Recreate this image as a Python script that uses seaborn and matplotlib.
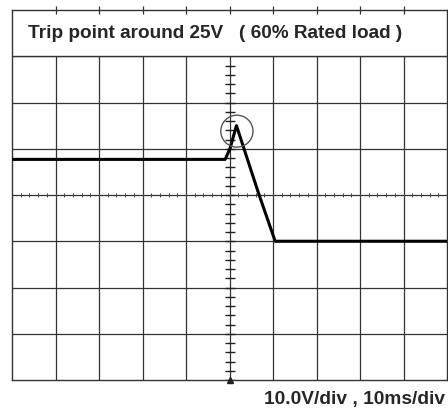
import numpy as np
import matplotlib.pyplot as plt
import seaborn as sns
from matplotlib.patches import Ellipse, Rectangle

# scope trace (10 V/div, 10 ms/div)
time_ms = [0, 49.0, 50.1, 51.6, 56.6, 60.5, 100]
volts = [17.7, 17.7, 20.0, 25.0, 10.6, 0.0, 0.0]

title_text = "Trip point around 25V   ( 60% Rated load )"
scale_text = "10.0V/div , 10ms/div"

sns.set_style("white")
plt.rcParams['font.family'] = ['Liberation Sans', 'DejaVu Sans']

fig = plt.figure(figsize=(4.48, 4.08), dpi=100)
ax = fig.add_axes([12/448, 28/408, 435/448, 370/408])

ax.set_xlim(0, 100)
ax.set_ylim(-30, 50)

# graticule
for x in np.arange(10, 100, 10):
    ax.axvline(x, color="#333333", lw=0.9, zorder=1)
for y in np.arange(-20, 50, 10):
    ax.axhline(y, color="#333333", lw=0.9, zorder=1)

# minor ticks on the center lines
vt = np.arange(-30, 40, 2)
ax.plot(np.full(len(vt), 50), vt, ls="none", marker="_",
        ms=7, mew=1.0, color="#222222", zorder=2)
ht = np.arange(0, 101, 2)
ax.plot(ht, np.full(len(ht), 10), ls="none", marker="|",
        ms=3.5, mew=0.7, color="#444444", zorder=2)
ax.plot([50], [-30], marker="^", ms=5, color="#222222", clip_on=False, zorder=5)

# title box over the top row
ax.add_patch(Rectangle((0, 40), 100, 10, facecolor="white", edgecolor="#333333",
                       lw=1.0, zorder=3))
tt = np.arange(10, 100, 10)
ax.plot(tt, np.full(len(tt), 50), ls="none", marker="|",
        ms=6, mew=0.9, color="#333333", zorder=4, clip_on=False)
ax.text(3.7, 43.95, title_text, fontsize=13.7, fontweight="bold", ha="left",
        va="baseline", zorder=5)

# trace
sns.lineplot(x=time_ms, y=volts, color="black", lw=2.2, ax=ax, zorder=6)
ax.add_patch(Ellipse((51.7, 23.8), 7.4, 6.9, fill=False, edgecolor="#555555",
                     lw=1.0, zorder=7))

ax.set_xticks([])
ax.set_yticks([])
for s in ax.spines.values():
    s.set_color("#333333")
    s.set_linewidth(1.0)

fig.text(445/448, 4/408, scale_text, fontsize=13.8, fontweight="bold",
         ha="right", va="baseline")

plt.savefig("out.png", dpi=100)
